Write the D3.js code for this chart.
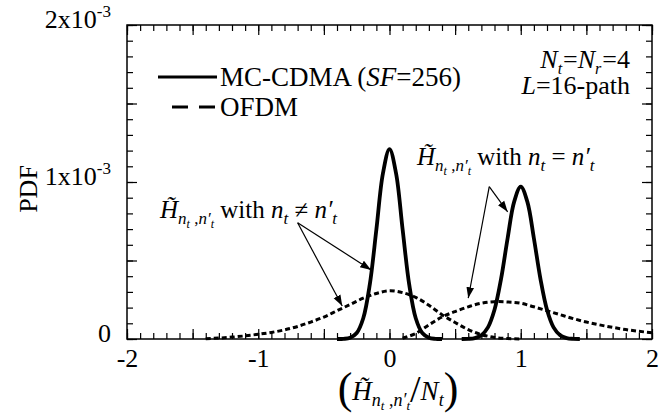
<!DOCTYPE html>
<html>
<head>
<meta charset="utf-8">
<script src="https://cdn.jsdelivr.net/npm/d3@7"></script>
<style>
  body { margin: 0; background: #fff; }
</style>
</head>
<body>
<div id="chart"></div>
<script>
// chart values (PDF in units of 1e-3)
var mcDiffX = [-0.40, -0.35, -0.30, -0.25, -0.20, -0.15, -0.10, -0.05, 0.00, 0.05, 0.10, 0.15, 0.20, 0.25, 0.30, 0.35, 0.40];
var mcDiffY = [0, 0.001, 0.008, 0.038, 0.132, 0.348, 0.697, 1.055, 1.210, 1.055, 0.697, 0.348, 0.132, 0.038, 0.008, 0.001, 0];

var mcSameX = [0.55, 0.60, 0.65, 0.70, 0.75, 0.80, 0.85, 0.90, 0.95, 1.00, 1.05, 1.10, 1.15, 1.20, 1.25, 1.30, 1.35, 1.40, 1.45];
var mcSameY = [0, 0.001, 0.006, 0.024, 0.074, 0.186, 0.383, 0.642, 0.875, 0.970, 0.875, 0.642, 0.383, 0.186, 0.074, 0.024, 0.006, 0.001, 0];

var ofdmDiffX = [-1.4, -1.3, -1.2, -1.1, -1.0, -0.9, -0.8, -0.7, -0.6, -0.5, -0.4, -0.3, -0.2, -0.1, 0.0, 0.1, 0.2, 0.3, 0.4, 0.5, 0.6, 0.7, 0.8, 0.9, 1.0];
var ofdmDiffY = [0.002, 0.006, 0.012, 0.020, 0.030, 0.042, 0.058, 0.080, 0.108, 0.140, 0.180, 0.220, 0.260, 0.290, 0.307, 0.295, 0.265, 0.215, 0.155, 0.105, 0.060, 0.028, 0.010, 0.003, 0];

var ofdmSameX = [0.1, 0.2, 0.3, 0.4, 0.5, 0.6, 0.7, 0.8, 0.9, 1.0, 1.1, 1.2, 1.3, 1.4, 1.5, 1.6, 1.7, 1.8, 1.9, 2.0];
var ofdmSameY = [0.005, 0.035, 0.090, 0.140, 0.175, 0.205, 0.228, 0.238, 0.236, 0.228, 0.205, 0.180, 0.155, 0.130, 0.108, 0.090, 0.074, 0.060, 0.049, 0.040];

var xTickLabels = [-2, -1, 0, 1, 2];
var yTickLabels = [0, 1, 2];   // x 1e-3

// arrows, in data units: [fromX, fromY, toX, toY]
var arrowsDiff = [[-0.70, 0.74, -0.14, 0.44], [-0.70, 0.74, -0.36, 0.21]];
var arrowsSame = [[0.76, 0.97, 0.90, 0.81], [0.76, 0.97, 0.60, 0.26]];

var FONT = '"Liberation Serif", "Times New Roman", serif';

// SVG
var svgWidth = 670, svgHeight = 416;
var margin = { top: 25, right: 18, bottom: 77, left: 127 };
var width = svgWidth - margin.left - margin.right;
var height = svgHeight - margin.top - margin.bottom;

var svg = d3.select("#chart").append("svg")
  .attr("width", svgWidth)
  .attr("height", svgHeight)
  .attr("font-family", FONT);

var chartGroup = svg.append("g")
  .attr("transform", `translate(${margin.left}, ${margin.top})`);

var xScale = d3.scaleLinear().domain([-2, 2]).range([0, width]);
var yScale = d3.scaleLinear().domain([0, 2]).range([height, 0]);

var xMinor = d3.range(-20, 21).map(d => d / 10);
var xMajor = d3.range(-4, 5).map(d => d / 2);
var yMinor = d3.range(0, 21).map(d => d / 10);
var yMajor = d3.range(0, 5).map(d => d / 2);

function styleAxis(g) {
  g.attr("font-family", FONT);
  g.select(".domain").remove();
  g.selectAll("line").attr("stroke", "#000").attr("stroke-width", 1.2);
}

// inward ticks on all four sides
chartGroup.append("g").attr("transform", `translate(0, ${height})`)
  .call(d3.axisBottom(xScale).tickValues(xMinor).tickSize(-6).tickFormat("")).call(styleAxis);
chartGroup.append("g").attr("transform", `translate(0, ${height})`)
  .call(d3.axisBottom(xScale).tickValues(xMajor).tickSize(-10).tickPadding(10)
    .tickFormat(d => xTickLabels.includes(d) ? String(d) : ""))
  .call(styleAxis)
  .selectAll("text").attr("font-size", "26px").attr("fill", "#000");
chartGroup.append("g")
  .call(d3.axisTop(xScale).tickValues(xMinor).tickSize(-6).tickFormat("")).call(styleAxis);
chartGroup.append("g")
  .call(d3.axisTop(xScale).tickValues(xMajor).tickSize(-10).tickFormat("")).call(styleAxis);
chartGroup.append("g")
  .call(d3.axisLeft(yScale).tickValues(yMinor).tickSize(-6).tickFormat("")).call(styleAxis);
chartGroup.append("g")
  .call(d3.axisLeft(yScale).tickValues(yMajor).tickSize(-10).tickFormat("")).call(styleAxis);
chartGroup.append("g").attr("transform", `translate(${width}, 0)`)
  .call(d3.axisRight(yScale).tickValues(yMinor).tickSize(-6).tickFormat("")).call(styleAxis);
chartGroup.append("g").attr("transform", `translate(${width}, 0)`)
  .call(d3.axisRight(yScale).tickValues(yMajor).tickSize(-10).tickFormat("")).call(styleAxis);

// frame
chartGroup.append("rect")
  .attr("width", width).attr("height", height)
  .attr("fill", "none").attr("stroke", "#000").attr("stroke-width", 1.5);

// y tick labels  (Nx10^-3)
yTickLabels.forEach(function(v) {
  var t = chartGroup.append("text")
    .attr("x", -16).attr("y", yScale(v) + 3)
    .attr("text-anchor", "end").attr("font-size", "26px");
  if (v === 0) { t.text("0"); return; }
  t.append("tspan").text(v + "x10");
  t.append("tspan").attr("font-size", "17px").attr("dy", -11).text("-3");
});

// rich text helper: parts = [text, size, italic, dy, dx]
function mathText(g, x, y, anchor, parts) {
  var t = g.append("text").attr("x", x).attr("y", y).attr("text-anchor", anchor);
  parts.forEach(function(p) {
    t.append("tspan").text(p[0])
      .attr("font-size", p[1] + "px")
      .attr("font-style", p[2] ? "italic" : "normal")
      .attr("dy", p[3] || 0)
      .attr("dx", p[4] || 0);
  });
  return t;
}

// axis titles
svg.append("text")
  .attr("transform", "translate(37, 189) rotate(-90)")
  .attr("text-anchor", "middle").attr("font-size", "26px")
  .text("PDF");

mathText(svg, 398, 400, "middle", [
  ["(", 44, false, 3],
  ["H\u0303", 27, true, -3],
  ["n", 18, true, 6],
  ["t", 13, true, 4],
  [" ,", 18, false, -4],
  ["n\u2032", 18, true, 0],
  ["t", 13, true, 4],
  ["/", 38, false, -8],
  ["N", 27, true, -2],
  ["t", 18, true, 6],
  [")", 44, false, -3]
]);

// curves
var line = d3.line()
  .x(d => xScale(d[0]))
  .y(d => yScale(d[1]))
  .curve(d3.curveCatmullRom);

function pairs(xs, ys) { return xs.map((v, i) => [v, ys[i]]); }

chartGroup.append("path").datum(pairs(ofdmDiffX, ofdmDiffY))
  .attr("d", line).attr("fill", "none").attr("stroke", "#000")
  .attr("stroke-width", 3).attr("stroke-dasharray", "5,3");
chartGroup.append("path").datum(pairs(ofdmSameX, ofdmSameY))
  .attr("d", line).attr("fill", "none").attr("stroke", "#000")
  .attr("stroke-width", 3).attr("stroke-dasharray", "5,3");
chartGroup.append("path").datum(pairs(mcDiffX, mcDiffY))
  .attr("d", line).attr("fill", "none").attr("stroke", "#000")
  .attr("stroke-width", 3.8).attr("stroke-linejoin", "round");
chartGroup.append("path").datum(pairs(mcSameX, mcSameY))
  .attr("d", line).attr("fill", "none").attr("stroke", "#000")
  .attr("stroke-width", 3.8).attr("stroke-linejoin", "round");

// legend
var legend = chartGroup.append("g");
legend.append("line").attr("x1", 31).attr("x2", 90).attr("y1", 52).attr("y2", 52)
  .attr("stroke", "#000").attr("stroke-width", 3);
legend.append("line").attr("x1", 45).attr("x2", 88).attr("y1", 82).attr("y2", 82)
  .attr("stroke", "#000").attr("stroke-width", 3).attr("stroke-dasharray", "16,11");
mathText(legend, 93, 61, "start", [
  ["MC-CDMA (", 27, false], ["SF", 27, true], ["=256)", 27, false]
]);
legend.append("text").attr("x", 93).attr("y", 91).attr("font-size", "27px").text("OFDM");

// parameters
mathText(chartGroup, 503, 43, "end", [
  ["N", 26, true], ["t", 16, true, 6], ["=", 26, false, -6, 1],
  ["N", 26, true], ["r", 16, true, 6], ["=4", 26, false, -6, 1]
]);
mathText(chartGroup, 503, 69, "end", [
  ["L", 26, true], ["=16-path", 26, false]
]);

// annotations
mathText(chartGroup, 33, 193, "start", [
  ["H\u0303", 25, true],
  ["n", 17, true, 6], ["t", 12, true, 4], [" ,", 17, false, -4],
  ["n\u2032", 17, true], ["t", 12, true, 4],
  [" with ", 25, false, -10],
  ["n", 25, true], ["t", 17, true, 6],
  [" \u2260 ", 25, false, -6],
  ["n\u2032", 25, true], ["t", 17, true, 6]
]);
mathText(chartGroup, 290, 140, "start", [
  ["H\u0303", 25, true],
  ["n", 17, true, 6], ["t", 12, true, 4], [" ,", 17, false, -4],
  ["n\u2032", 17, true], ["t", 12, true, 4],
  [" with ", 25, false, -10],
  ["n", 25, true], ["t", 17, true, 6],
  [" = ", 25, false, -6],
  ["n\u2032", 25, true], ["t", 17, true, 6]
]);

// arrows
svg.append("defs").append("marker")
  .attr("id", "arrow").attr("viewBox", "0 0 10 10")
  .attr("refX", 10).attr("refY", 5)
  .attr("markerWidth", 11).attr("markerHeight", 11)
  .attr("markerUnits", "userSpaceOnUse")
  .attr("orient", "auto")
  .append("path").attr("d", "M0,1.5 L10,5 L0,8.5 Z").attr("fill", "#000");

chartGroup.selectAll(".arrow")
  .data(arrowsDiff.concat(arrowsSame))
  .enter()
  .append("line")
  .attr("x1", d => xScale(d[0])).attr("y1", d => yScale(d[1]))
  .attr("x2", d => xScale(d[2])).attr("y2", d => yScale(d[3]))
  .attr("stroke", "#000").attr("stroke-width", 1.2)
  .attr("marker-end", "url(#arrow)");
</script>
</body>
</html>
